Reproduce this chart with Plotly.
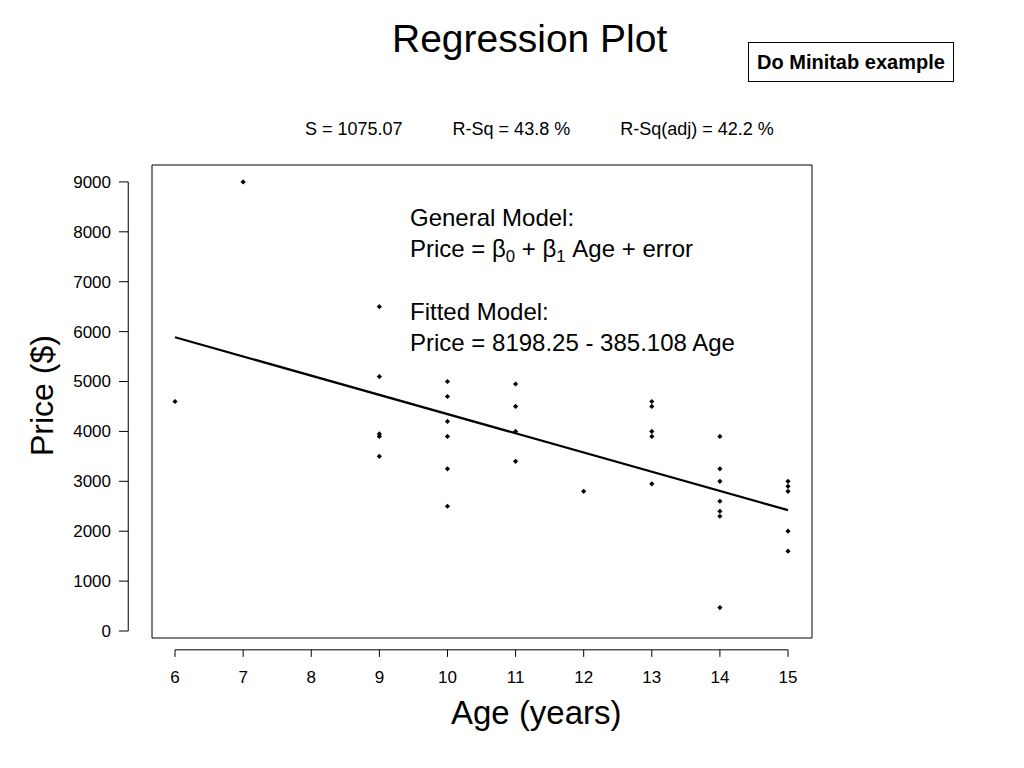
import plotly.graph_objects as go

age = [6, 7, 9, 9, 9, 9, 9, 10, 10, 10, 10, 10, 10, 11, 11, 11, 11, 12,
       13, 13, 13, 13, 13, 14, 14, 14, 14, 14, 14, 14, 15, 15, 15, 15, 15]
price = [4600, 9000, 6500, 5100, 3950, 3900, 3500, 5000, 4700, 4200, 3900, 3250, 2500,
         4950, 4500, 4000, 3400, 2800, 4600, 4500, 4000, 3900, 2950,
         3900, 3250, 3000, 2600, 2400, 2300, 470, 3000, 2900, 2800, 2000, 1600]
b0, b1 = 8198.25, -385.108
fit_x = [6, 15]
fit_y = [b0 + b1 * v for v in fit_x]
xticks = [6, 7, 8, 9, 10, 11, 12, 13, 14, 15]
yticks = [0, 1000, 2000, 3000, 4000, 5000, 6000, 7000, 8000, 9000]

F = "Liberation Sans, Arial, sans-serif"
fig = go.Figure()
fig.add_trace(go.Scatter(x=age, y=price, mode="markers",
                         marker=dict(symbol="diamond", size=4, color="black")))
fig.add_trace(go.Scatter(x=fit_x, y=fit_y, mode="lines", line=dict(color="black", width=2.2)))

shapes = [dict(type="rect", xref="paper", yref="paper", x0=0, x1=1, y0=0, y1=1,
               line=dict(color="black", width=1))]
shapes.append(dict(type="line", xref="x", yref="paper", x0=xticks[0], x1=xticks[-1],
                   y0=-0.025, y1=-0.025, line=dict(color="black", width=1)))
for t in xticks:
    shapes.append(dict(type="line", xref="x", yref="paper", x0=t, x1=t,
                       y0=-0.025, y1=-0.04, line=dict(color="black", width=1)))
shapes.append(dict(type="line", xref="paper", yref="y", x0=-0.036, x1=-0.036,
                   y0=yticks[0], y1=yticks[-1], line=dict(color="black", width=1)))
for t in yticks:
    shapes.append(dict(type="line", xref="paper", yref="y", x0=-0.036, x1=-0.05,
                       y0=t, y1=t, line=dict(color="black", width=1)))

ann = [
    dict(text="Regression Plot", x=529, y=38, font=dict(size=39)),
    dict(text="<b>Do Minitab example</b>", x=851, y=62, font=dict(size=20),
         bordercolor="black", borderwidth=1, borderpad=8),
    dict(text="S = 1075.07" + "&nbsp;" * 10 + "R-Sq = 43.8 %" + "&nbsp;" * 10 + "R-Sq(adj) = 42.2 %",
         x=539, y=129, font=dict(size=18)),
    dict(text="General Model:<br>Price = β<sub>0</sub> + β<sub>1</sub> Age + error<br><br>Fitted Model:<br>Price = 8198.25 - 385.108 Age",
         x=408, y=202, xanchor="left", yanchor="top", align="left", font=dict(size=24)),
    dict(text="Age (years)", x=536, y=712, font=dict(size=33)),
    dict(text="Price ($)", x=42, y=396, textangle=-90, font=dict(size=32)),
]
for a in ann:
    a.setdefault("xanchor", "center")
    a.setdefault("yanchor", "middle")
    a.update(xref="paper", yref="paper", showarrow=False)
    a["x"] = (a["x"] - 152) / (812 - 152)
    a["y"] = (638 - a["y"]) / (638 - 165)

fig.update_layout(
    width=1024, height=768, margin=dict(l=144, r=220, t=157, b=138),
    paper_bgcolor="white", plot_bgcolor="white", showlegend=False,
    font=dict(family=F, color="black", size=17),
    shapes=shapes, annotations=ann,
    xaxis=dict(range=[5.662, 15.352], tickvals=xticks, showgrid=False, zeroline=False,
               showline=False, ticks="", ticklabelstandoff=27),
    yaxis=dict(range=[-140, 9339], tickvals=yticks, showgrid=False, zeroline=False,
               showline=False, ticks="", ticklabelstandoff=40),
)
fig.write_html("out.html")
